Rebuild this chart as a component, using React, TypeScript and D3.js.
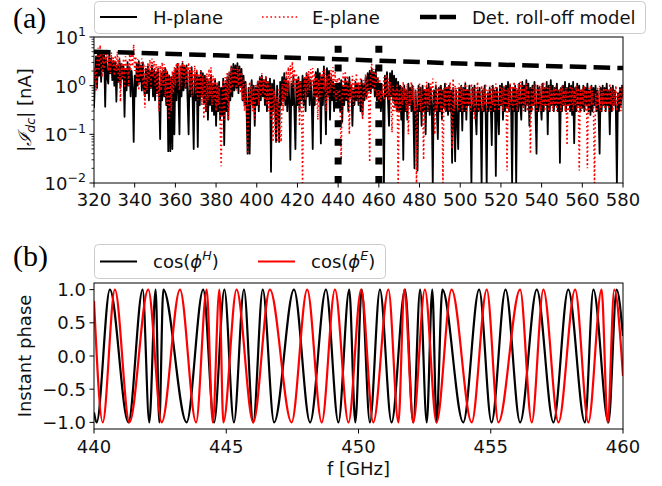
import React from 'react';
import * as d3 from 'd3';

// |I_dc| [nA], sampled every 0.5 GHz from 320 GHz (one row = 10 GHz)
const hPlane = [
  0.35, 1.5, 4.0, 0.9, 5.0, 1.6, 4.6, 1.2, 5.2, 2.0, 4.4, 0.37, 3.8, 1.5, 1.1, 4.5, 1.8, 3.6, 1.3, 3.2,
  1.0, 3.0, 0.47, 2.6, 1.2, 3.4, 0.9, 2.8, 1.4, 2.5, 0.23, 2.2, 0.8, 3.0, 1.0, 2.4, 0.6, 2.0, 0.9, 0.07,
  1.6, 0.6, 2.8, 1.0, 3.2, 1.2, 2.6, 0.8, 3.0, 0.9, 0.6, 2.2, 0.7, 2.5, 0.5, 2.0, 0.9, 2.6, 0.6, 2.1,
  0.5, 1.9, 0.7, 2.2, 0.6, 0.08, 1.8, 0.5, 2.0, 0.6, 2.3, 0.4, 1.9, 0.045, 1.6, 0.045, 1.5, 0.05, 1.8, 0.1,
  2.2, 0.5, 2.8, 0.7, 0.1, 2.5, 0.6, 2.9, 0.8, 2.4, 0.9, 2.6, 0.5, 0.1, 2.0, 0.6, 2.4, 0.5, 0.05, 1.7,
  0.5, 1.9, 0.055, 1.5, 0.4, 2.0, 0.6, 1.8, 0.45, 1.6, 0.3, 1.4, 0.2, 1.2, 0.4, 1.6, 0.3, 1.1, 0.25, 1.3,
  0.15, 1.0, 0.3, 1.2, 0.2, 0.9, 0.25, 1.4, 0.06, 1.1, 0.3, 1.5, 0.2, 1.8, 0.5, 2.4, 0.6, 2.8, 0.8, 2.6,
  0.9, 2.9, 0.7, 2.5, 1.0, 2.2, 0.5, 1.6, 0.4, 1.2, 0.3, 0.04, 0.9, 0.04, 0.7, 1.3, 0.4, 1.0, 0.15, 0.9,
  0.4, 1.2, 0.3, 1.5, 0.5, 1.6, 0.6, 1.3, 0.4, 1.5, 0.3, 1.2, 0.5, 1.4, 0.017, 1.1, 0.3, 1.3, 0.4, 0.07,
  1.0, 0.3, 0.07, 1.2, 0.4, 1.5, 0.5, 1.8, 0.4, 1.4, 0.3, 1.2, 0.5, 0.03, 1.1, 0.4, 1.6, 0.3, 0.05, 1.3,
  0.4, 1.5, 0.3, 1.2, 0.5, 1.6, 0.4, 1.4, 0.3, 1.8, 0.6, 1.5, 0.4, 1.3, 0.5, 0.05, 1.2, 0.4, 1.9, 0.6,
  2.2, 0.5, 1.8, 0.065, 1.5, 0.4, 2.5, 0.7, 0.1, 2.3, 0.6, 2.0, 0.2, 1.5, 0.5, 1.2, 0.3, 1.0, 0.5, 0.9,
  0.4, 1.1, 0.3, 1.3, 0.18, 1.0, 0.4, 1.4, 0.5, 1.2, 0.3, 1.5, 0.6, 1.0, 0.15, 0.8, 0.4, 1.2, 0.5, 1.1,
  0.4, 1.0, 0.3, 1.3, 0.25, 1.1, 0.5, 1.5, 0.6, 1.8, 0.8, 2.0, 0.7, 2.2, 0.9, 1.9, 0.6, 2.1, 0.5, 1.4,
  0.4, 1.1, 0.3, 0.8, 0.5, 0.009, 1.6, 0.6, 1.9, 0.5, 0.15, 1.8, 0.6, 2.0, 0.5, 1.6, 0.4, 1.4, 0.3, 1.2,
  0.3, 1.0, 0.2, 0.9, 0.03, 1.0, 0.3, 0.8, 0.2, 1.1, 0.4, 0.9, 0.3, 1.0, 0.25, 0.02, 0.8, 0.3, 0.018, 1.0,
  0.3, 0.9, 0.15, 1.0, 0.3, 0.8, 0.1, 0.9, 0.3, 1.1, 0.25, 0.9, 0.4, 0.009, 0.8, 0.3, 1.0, 0.3, 0.08, 0.9,
  0.3, 1.0, 0.2, 0.8, 0.35, 1.1, 0.3, 0.9, 0.25, 1.0, 0.3, 0.8, 0.026, 0.9, 0.3, 0.028, 0.8, 0.2, 0.05, 0.9,
  0.3, 1.0, 0.12, 0.9, 0.3, 1.1, 0.2, 0.8, 0.4, 1.0, 0.3, 0.009, 0.9, 0.3, 1.0, 0.25, 0.1, 0.8, 0.3, 0.9,
  0.3, 0.009, 0.8, 0.3, 1.0, 0.25, 0.009, 0.7, 0.3, 0.9, 0.4, 0.06, 1.0, 0.3, 0.8, 0.014, 0.9, 0.3, 0.1, 1.0,
  0.4, 1.1, 0.2, 0.9, 0.3, 1.0, 0.35, 1.2, 0.3, 1.0, 0.4, 0.009, 0.9, 0.3, 1.0, 0.009, 0.8, 0.3, 1.1, 0.4,
  0.2, 1.2, 0.4, 1.0, 0.3, 1.3, 0.4, 1.1, 0.15, 0.9, 0.3, 1.0, 0.4, 1.2, 0.3, 0.04, 1.0, 0.3, 0.9, 0.4,
  0.2, 1.1, 0.3, 0.9, 0.4, 1.2, 0.1, 1.0, 0.3, 1.3, 0.4, 1.0, 0.3, 0.9, 0.4, 1.1, 0.3, 0.8, 0.026, 0.9,
  0.3, 1.0, 0.4, 1.2, 0.3, 0.9, 0.4, 1.1, 0.3, 1.0, 0.25, 1.2, 0.066, 0.9, 0.3, 1.1, 0.4, 1.0, 0.3, 0.8,
  0.35, 1.0, 0.3, 0.9, 0.4, 1.1, 0.3, 0.8, 0.25, 1.0, 0.3, 0.9, 0.4, 1.0, 0.3, 0.8, 0.25, 0.04, 0.9, 0.3,
  1.0, 0.4, 0.9, 0.3, 1.1, 0.4, 0.8, 0.1, 0.9, 0.3, 1.0, 0.4, 0.8, 0.3, 0.009, 0.7, 0.3, 0.9, 0.4, 1.0,
  0.6,
];

const ePlane = [
  1.2, 2.4, 0.8, 3.5, 6.0, 2.0, 6.8, 3.0, 1.5, 4.5, 2.2, 5.0, 3.0, 5.5, 2.0, 4.0, 1.8, 4.8, 2.5, 3.8,
  1.6, 4.2, 2.0, 5.0, 1.2, 3.8, 0.47, 3.0, 1.5, 3.6, 0.9, 4.0, 1.8, 3.2, 1.0, 4.5, 2.0, 5.5, 2.5, 7.0,
  2.0, 4.0, 1.2, 3.5, 0.8, 3.0, 1.5, 3.6, 1.0, 2.8, 0.35, 2.5, 0.8, 3.0, 1.2, 3.4, 0.9, 3.6, 1.5, 3.2,
  1.0, 2.8, 0.6, 2.5, 0.3, 2.6, 0.8, 3.0, 1.0, 2.8, 0.6, 2.2, 0.4, 1.8, 0.2, 1.5, 0.3, 2.0, 0.7, 2.4,
  1.0, 2.9, 1.2, 3.0, 0.8, 2.6, 1.0, 3.2, 1.4, 2.8, 0.9, 2.5, 1.1, 3.0, 0.8, 2.4, 0.6, 2.0, 0.9, 2.6,
  0.7, 2.2, 0.5, 1.8, 0.6, 2.0, 0.4, 1.6, 0.21, 1.4, 0.3, 1.8, 0.5, 2.2, 0.6, 2.4, 0.4, 1.6, 0.5, 1.5,
  0.3, 1.2, 0.4, 1.0, 0.2, 0.022, 0.6, 1.3, 0.2, 1.5, 0.5, 1.9, 0.2, 2.0, 0.7, 2.6, 0.9, 2.4, 1.1, 2.2,
  0.8, 2.5, 1.0, 2.3, 0.7, 1.9, 0.5, 1.4, 0.3, 1.1, 0.6, 0.04, 0.5, 1.2, 0.4, 1.0, 0.3, 0.9, 0.2, 1.1,
  0.5, 1.3, 0.4, 1.5, 0.6, 1.8, 0.7, 1.4, 0.5, 1.6, 0.4, 1.2, 0.3, 1.0, 0.2, 0.9, 0.07, 0.8, 0.1, 0.07,
  0.6, 0.07, 0.9, 0.1, 0.07, 1.1, 0.3, 1.4, 0.5, 2.0, 0.6, 2.4, 0.8, 2.6, 1.0, 3.1, 0.9, 2.2, 0.6, 1.8,
  0.5, 1.4, 0.15, 1.2, 0.4, 0.01, 0.8, 1.5, 0.5, 1.8, 0.7, 2.0, 0.8, 2.2, 1.0, 2.3, 0.6, 1.8, 0.4, 1.5,
  0.2, 1.3, 0.5, 1.8, 0.6, 2.0, 0.8, 2.2, 0.3, 1.6, 0.5, 1.8, 0.7, 2.1, 0.9, 2.4, 0.6, 1.9, 0.5, 1.4,
  0.6, 1.5, 0.4, 0.03, 1.0, 1.8, 0.6, 2.0, 0.5, 1.6, 0.7, 0.1, 1.2, 0.5, 1.6, 0.4, 1.3, 0.6, 1.8, 0.5,
  1.2, 0.4, 1.5, 0.5, 0.2, 1.3, 0.6, 1.7, 0.5, 1.4, 0.6, 0.027, 1.8, 2.8, 1.0, 2.2, 0.8, 1.9, 0.6, 1.5,
  0.5, 1.3, 0.4, 1.1, 0.6, 1.5, 0.5, 1.7, 0.6, 1.4, 0.5, 1.2, 0.4, 0.11, 1.0, 0.3, 0.8, 0.3, 1.1, 0.009,
  0.8, 0.3, 1.0, 0.4, 1.2, 0.5, 0.9, 0.3, 1.1, 0.1, 0.8, 0.4, 1.2, 0.5, 1.0, 0.3, 0.8, 0.009, 0.9, 0.4,
  1.1, 0.3, 0.9, 0.4, 0.03, 1.0, 0.4, 1.2, 0.3, 0.9, 0.4, 1.1, 0.5, 1.4, 0.4, 0.1, 1.2, 0.3, 0.9, 0.4,
  1.0, 0.3, 0.8, 0.009, 0.9, 0.3, 1.1, 0.4, 1.0, 0.3, 1.2, 0.4, 0.05, 1.4, 0.3, 1.0, 0.4, 0.9, 0.3, 1.1,
  0.4, 1.0, 0.3, 0.9, 0.4, 1.2, 0.3, 1.0, 0.4, 0.8, 0.3, 1.1, 0.4, 0.9, 0.2, 1.0, 0.4, 1.2, 0.3, 0.8,
  0.4, 1.0, 0.3, 0.9, 0.4, 1.1, 0.3, 0.8, 0.4, 1.0, 0.3, 1.0, 0.4, 0.9, 0.3, 1.1, 0.4, 0.8, 0.3, 1.0,
  0.4, 0.9, 0.3, 1.0, 0.4, 0.8, 0.018, 0.9, 0.3, 1.1, 0.4, 1.0, 0.3, 1.2, 0.4, 0.9, 0.3, 1.1, 0.4, 1.2,
  0.4, 1.0, 0.3, 0.9, 0.4, 1.1, 0.3, 0.8, 0.4, 0.04, 0.9, 0.3, 1.0, 0.4, 1.1, 0.3, 0.9, 0.4, 1.0, 0.3,
  1.1, 0.4, 1.2, 0.3, 1.0, 0.4, 0.9, 0.3, 1.0, 0.4, 0.8, 0.3, 0.9, 0.4, 1.0, 0.3, 0.8, 0.4, 0.9, 0.3,
  1.0, 0.4, 0.8, 0.3, 0.9, 0.06, 0.8, 0.3, 1.0, 0.4, 0.9, 0.3, 0.8, 0.4, 1.0, 0.3, 0.9, 0.018, 0.8, 0.3,
  0.9, 0.4, 1.0, 0.3, 0.8, 0.02, 0.9, 0.3, 1.0, 0.4, 0.8, 0.3, 0.009, 0.7, 0.3, 0.9, 0.4, 1.0, 0.3, 0.8,
  0.4, 0.9, 0.3, 1.0, 0.4, 0.8, 0.3, 1.1, 0.4, 0.9, 0.3, 0.8, 0.4, 1.0, 0.3, 0.7, 0.4, 0.9, 0.3, 1.0,
  0.5,
];
const fStart = 320;
const fStep = 0.5;

// detector roll-off model [nA]
const rollOffFreq = [320, 380, 440, 500, 580];
const rollOffVals = [5.0, 4.2, 3.5, 2.85, 2.3];
const bandEdges = [440, 460];

const xTicksA = [320, 340, 360, 380, 400, 420, 440, 460, 480, 500, 520, 540, 560, 580];
const yTicksA = [0.01, 0.1, 1, 10];
const yExpA = ['\u22122', '\u22121', '0', '1'];

// instant phase: turning points (f [GHz], cos value)
const phaseH: [number, number][] = [
  [440.0, -0.85], [440.1, -1], [440.6, 1], [441.3, -1], [441.84, 1], [442.09, -1], [442.33, 1],
  [442.47, -1], [442.62, 1], [443.5, -1], [444.13, 1], [444.54, -1], [444.93, 1], [445.29, -1],
  [445.67, 1], [446.02, -1], [446.38, 1], [446.81, -1], [447.56, 1], [448.17, -1], [448.77, 1],
  [449.24, -1], [449.65, 1], [449.88, -1], [450.12, 1], [450.43, -1], [450.81, 1], [451.25, -1],
  [451.76, 1], [452.07, -1], [452.33, 1], [452.58, -1], [452.79, 1], [452.95, -1], [453.17, 1],
  [453.96, -1], [454.56, 1], [455.03, -1], [455.56, 1], [456.11, -1], [456.74, 1], [457.37, -1],
  [457.93, 1], [458.56, -1], [458.88, 1], [459.45, -1], [459.76, 1], [460.0, 0.3],
];
const phaseE: [number, number][] = [
  [440.0, 0.83], [440.33, -1], [440.79, 1], [441.34, -1], [442.05, 1], [442.56, -1], [443.25, 1],
  [443.86, -1], [444.26, 1], [444.49, -1], [444.74, 1], [444.89, -1], [445.39, 1], [446.02, -1],
  [446.65, 1], [447.47, -1], [448.06, 1], [448.61, -1], [449.11, 1], [449.62, -1], [450.1, 1],
  [450.56, -1], [451.13, 1], [451.51, -1], [451.73, 1], [452.07, -1], [452.51, 1], [452.95, -1],
  [453.52, 1], [454.28, -1], [454.85, 1], [455.29, -1], [456.11, 1], [456.55, -1], [456.99, 1],
  [457.56, -1], [458.19, 1], [458.69, -1], [459.19, 1], [459.42, -1], [459.67, 1], [460.0, -0.3],
];
const xTicksB = [440, 445, 450, 455, 460];
const yTicksB = [-1, -0.5, 0, 0.5, 1];
const yLabelsB = ['\u22121.0', '\u22120.5', '0.0', '0.5', '1.0'];

const W = 662;
const H = 486;
const left = 94;
const right = 623;
const panelA = { top: 37, bottom: 183 };
const panelB = { top: 283, bottom: 429 };
const font = 'DejaVu Sans, sans-serif';
const fs = 18;
const ink = '#111';

export default function App() {
  const xA = d3.scaleLinear().domain([320, 580]).range([left, right]);
  const yA = d3.scaleLog().domain([0.01, 10]).range([panelA.bottom, panelA.top]);
  const xB = d3.scaleLinear().domain([440, 460]).range([left, right]);
  const yB = d3.scaleLinear().domain([-1.1, 1.1]).range([panelB.bottom, panelB.top]);

  const traceA = d3.line<number>()
    .x((_, i) => xA(fStart + i * fStep))
    .y(d => yA(Math.max(d, 0.005)));
  const rollLine = d3.line<number>()
    .x((_, i) => xA(rollOffFreq[i]))
    .y(d => yA(d));
  const phaseLine = d3.line<[number, number]>()
    .x(d => xB(d[0]))
    .y(d => yB(d[1]))
    .curve(d3.curveMonotoneX);

  const minorA = yA.ticks().filter(v => !yTicksA.some(t => Math.abs(t - v) < 1e-9));

  return (
    <svg width={W} height={H} style={{ position: 'absolute', left: 0, top: 0, background: '#fff' }}
      fontFamily={font}>
      <defs>
        <clipPath id="clipA"><rect x={left} y={panelA.top} width={right - left} height={panelA.bottom - panelA.top} /></clipPath>
        <clipPath id="clipB"><rect x={left} y={panelB.top} width={right - left} height={panelB.bottom - panelB.top} /></clipPath>
      </defs>

      {/* ---------- panel (a) ---------- */}
      <g clipPath="url(#clipA)">
        <path d={traceA(hPlane) ?? ''} fill="none" stroke="#000" strokeWidth={1.8} strokeLinejoin="round" />
        <path d={traceA(ePlane) ?? ''} fill="none" stroke="#ff0000" strokeWidth={1.6} strokeDasharray="1.6 2.6" />
        <path d={rollLine(rollOffVals) ?? ''} fill="none" stroke="#000" strokeWidth={4.5} strokeDasharray="16.6 7.2" />
        {bandEdges.map(f => (
          <line key={f} x1={xA(f)} x2={xA(f)} y1={yA(0.01)} y2={yA(10)} stroke="#000" strokeWidth={7} strokeDasharray="7 11.6" />
        ))}
      </g>
      <rect x={left} y={panelA.top} width={right - left} height={panelA.bottom - panelA.top} fill="none" stroke="#000" strokeWidth={1} />
      {xTicksA.map(t => (
        <g key={t}>
          <line x1={xA(t)} x2={xA(t)} y1={panelA.bottom} y2={panelA.bottom + 4.5} stroke="#000" />
          <text x={xA(t)} y={panelA.bottom + 23} textAnchor="middle" fontSize={fs} fill={ink}>{t}</text>
        </g>
      ))}
      {minorA.map(t => (
        <line key={t} x1={left - 2.5} x2={left} y1={yA(t)} y2={yA(t)} stroke="#000" strokeWidth={0.8} />
      ))}
      {yTicksA.map((t, i) => (
        <g key={t}>
          <line x1={left - 4.5} x2={left} y1={yA(t)} y2={yA(t)} stroke="#000" />
          <text x={left - 8} y={yA(t) + 7} textAnchor="end" fontSize={fs} fill={ink}>
            10<tspan dy={-8} fontSize={12.6}>{yExpA[i]}</tspan>
          </text>
        </g>
      ))}
      <text transform={`translate(31,${(panelA.top + panelA.bottom) / 2}) rotate(-90)`} textAnchor="middle" fontSize={fs} fill={ink}>
        |<tspan fontStyle="italic" fontFamily="DejaVu Serif, serif">{'\u2110'}</tspan><tspan fontStyle="italic" fontSize={12.6} dy={4}>dc</tspan><tspan dy={-4}>| [nA]</tspan>
      </text>
      <text x={13} y={28} fontFamily="Liberation Serif, serif" fontSize={30}>(a)</text>

      {/* legend (a) */}
      <rect x={94.5} y={1.5} width={551} height={32} rx={4} fill="#fff" fillOpacity={0.8} stroke="#cccccc" />
      <line x1={100} x2={137} y1={17} y2={17} stroke="#000" strokeWidth={1.8} />
      <text x={153} y={23.5} fontSize={fs} fill={ink}>H-plane</text>
      <line x1={262} x2={298} y1={17} y2={17} stroke="#ff0000" strokeWidth={1.6} strokeDasharray="1.6 2.6" />
      <text x={312} y={23.5} fontSize={fs} fill={ink}>E-plane</text>
      <line x1={420} x2={456} y1={17} y2={17} stroke="#000" strokeWidth={4.5} strokeDasharray="16.6 3" />
      <text x={472} y={23.5} fontSize={fs} fill={ink}>Det. roll-off model</text>

      {/* ---------- panel (b) ---------- */}
      <g clipPath="url(#clipB)">
        <path d={phaseLine(phaseH) ?? ''} fill="none" stroke="#000" strokeWidth={2.2} />
        <path d={phaseLine(phaseE) ?? ''} fill="none" stroke="#ff0000" strokeWidth={2.2} />
      </g>
      <rect x={left} y={panelB.top} width={right - left} height={panelB.bottom - panelB.top} fill="none" stroke="#000" strokeWidth={1} />
      {xTicksB.map(t => (
        <g key={t}>
          <line x1={xB(t)} x2={xB(t)} y1={panelB.bottom} y2={panelB.bottom + 4.5} stroke="#000" />
          <text x={xB(t)} y={panelB.bottom + 24} textAnchor="middle" fontSize={fs} fill={ink}>{t}</text>
        </g>
      ))}
      {yTicksB.map((t, i) => (
        <g key={t}>
          <line x1={left - 4.5} x2={left} y1={yB(t)} y2={yB(t)} stroke="#000" />
          <text x={left - 8} y={yB(t) + 6.5} textAnchor="end" fontSize={fs} fill={ink}>{yLabelsB[i]}</text>
        </g>
      ))}
      <text transform={`translate(31,${(panelB.top + panelB.bottom) / 2}) rotate(-90)`} textAnchor="middle" fontSize={fs} fill={ink}>Instant phase</text>
      <text x={(left + right) / 2} y={475} textAnchor="middle" fontSize={fs} fill={ink}>f [GHz]</text>
      <text x={13} y={266} fontFamily="Liberation Serif, serif" fontSize={30}>(b)</text>

      {/* legend (b) */}
      <rect x={94.5} y={244.5} width={291} height={34} rx={4} fill="#fff" fillOpacity={0.8} stroke="#cccccc" />
      <line x1={100} x2={137} y1={261.5} y2={261.5} stroke="#000" strokeWidth={2.2} />
      <text x={153} y={268} fontSize={fs} fill={ink}>
        cos(<tspan fontStyle="italic">{'\u03d5'}</tspan><tspan fontStyle="italic" fontSize={12.6} dy={-8}>H</tspan><tspan dy={8}>)</tspan>
      </text>
      <line x1={258} x2={295} y1={261.5} y2={261.5} stroke="#ff0000" strokeWidth={2.2} />
      <text x={311} y={268} fontSize={fs} fill={ink}>
        cos(<tspan fontStyle="italic">{'\u03d5'}</tspan><tspan fontStyle="italic" fontSize={12.6} dy={-8}>E</tspan><tspan dy={8}>)</tspan>
      </text>
    </svg>
  );
}
